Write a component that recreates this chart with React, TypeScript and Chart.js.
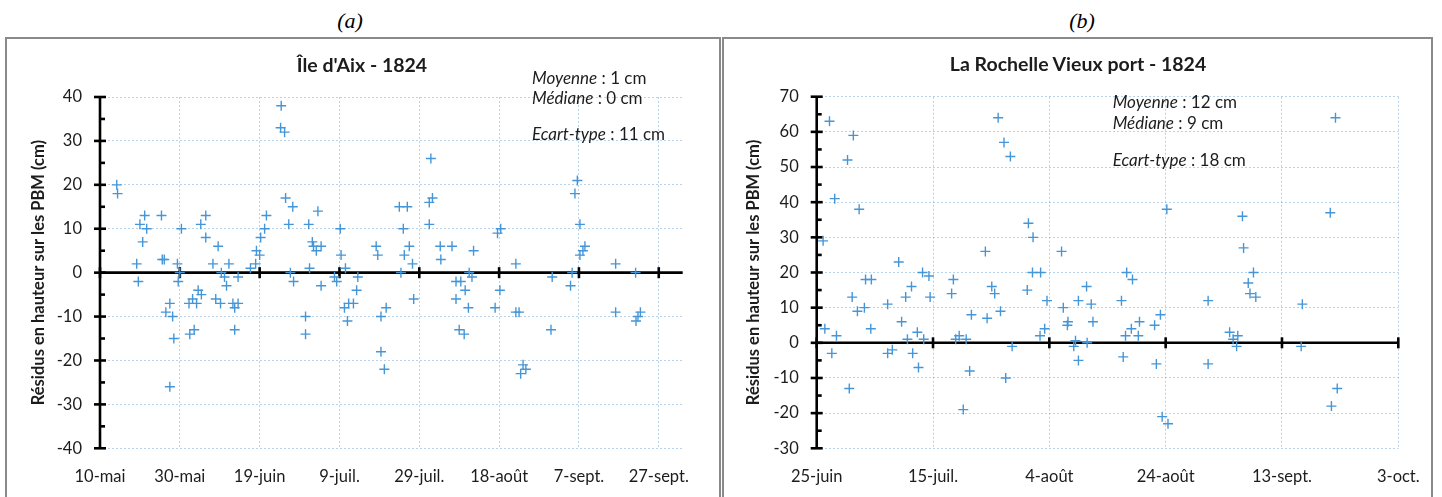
import React, { useEffect, useRef } from 'react';
import { Chart, registerables } from 'chart.js';

Chart.register(...registerables);

const FONT = 'Lato, "Open Sans", "DejaVu Sans", sans-serif';
const MARK_COLOR = '#4596d8';
const TEXT_COLOR = '#1c1c1c';
const GRID_COLOR = 'rgba(135,180,220,0.6)';

const Y_TITLE = 'Résidus en hauteur sur les PBM (cm)';

// ---- Panel (a) : Île d'Aix (x = days after 10 May 1824) ----
const aixTitle = "Île d'Aix - 1824";
const aixDays = [
  4.2, 4.4, 9.2, 9.6, 10, 10.7, 11.2, 11.7, 15.4, 15.6, 16.1, 16.5, 17.5, 17.5, 18.2, 18.5, 19.4, 19.6, 20, 20.4,
  22.3, 22.5, 23.2, 23.6, 24.2, 24.6, 25.25, 25.4, 26.5, 26.5, 28.3, 29, 29.6, 30.2, 30.4, 31.2, 31.7, 32.3, 33.3, 33.75,
  33.75, 34.6, 34.6, 37.7, 39, 39.2, 40, 40.25, 41.25, 41.7, 45.25, 45.4, 46.25, 46.5, 47.3, 47.7, 48.3, 48.5, 51.5, 51.5,
  52.3, 52.5, 53.2, 53.5, 54.2, 54.6, 55.4, 55.4, 58.75, 59.3, 60.2, 60.4, 61.25, 61.5, 62, 62.3, 63.5, 64.3, 64.6, 69.2,
  69.6, 70.4, 70.4, 71.25, 71.7, 75, 75.4, 76, 76.25, 77, 77.5, 78.3, 78.6, 82.5, 82.5, 82.9, 83.3, 85.25, 85.4, 88.2,
  89.2, 89.2, 90, 90.4, 91.25, 91.5, 92.3, 92.5, 93.2, 93.6, 99, 99.6, 100.2, 100.4, 104.2, 104.2, 105, 105.4, 106, 106.7,
  113, 113.3, 117.9, 118.3, 119, 119.6, 120.25, 120.25, 121.5, 121, 129.2, 129.2, 134.2, 134.3, 134.8, 135.4,
];
const aixResid = [
  20, 18, 2, -2, 11, 7, 13, 10, 13, 3, 3, -9, -7, -26, -10, -15, 2, -2, 0, 10,
  -7, -14, -6, -13, -7, -4, 11, -5, 13, 8, 2, -6, 6, -7, 0, -1, -3, 2, -7, -8,
  -13, -7, -1, 1, 2, 5, 4, 8, 10, 13, 33, 38, 32, 17, 11, 0, 15, -2, -10, -14,
  11, 1, 7, 6, 5, 14, 6, -3, -1, -2, 10, 4, -8, 1, -11, -7, -7, -4, -1, 6,
  4, -10, -18, -22, -8, 15, 0, 10, 4, 15, 6, 2, -6, 16, 11, 26, 17, 6, 3, 6,
  -2, -6, -13, -2, -14, -4, -8, 0, -1, 5, -8, 9, -4, 10, 2, -9, -9, -23, -21, -22,
  -13, -1, -3, 0, 18, 21, 11, 4, 6, 5, 2, -9, 0, -11, -10, -9,
];
const aixTickDays = [0, 20, 40, 60, 80, 100, 120, 140];
const aixTickLabels = ['10-mai', '30-mai', '19-juin', '9-juil.', '29-juil.', '18-août', '7-sept.', '27-sept.'];
const aixStats = [
  ['Moyenne', '1 cm'],
  ['Médiane', '0 cm'],
  ['Ecart-type', '11 cm'],
];

// ---- Panel (b) : La Rochelle Vieux port (x = days after 25 June 1824) ----
const lrTitle = 'La Rochelle Vieux port - 1824';
const lrDays = [
  1.1, 1.4, 2.2, 2.6, 3.1, 3.4, 5.3, 5.6, 6.1, 6.3, 7, 7.3, 8.2, 8.4, 9.3, 9.4, 12.2, 12.2, 13, 14.1,
  14.6, 15.3, 15.6, 16.3, 16.5, 17.3, 17.5, 18.2, 18.4, 19.3, 19.5, 23.2, 23.5, 23.9, 24.5, 25.2, 25.7, 26.3, 26.6, 29,
  29.3, 30.1, 30.6, 31.2, 31.6, 32.2, 32.5, 33.3, 33.6, 36.2, 36.4, 37.1, 37.2, 38.4, 38.5, 39.2, 39.6, 42.1, 42.4, 43.1,
  43.2, 44.2, 44.5, 45, 45, 46.4, 46.5, 47.2, 47.5, 52.4, 52.7, 53.1, 53.3, 54.1, 54.3, 55.3, 55.5, 58.1, 58.4, 59.1,
  59.4, 60.2, 60.4, 67.3, 67.3, 71, 71.6, 72.2, 72.4, 73.2, 73.4, 74.2, 74.5, 75.1, 75.5, 83.3, 83.5, 88.3, 88.5, 89.2,
  89.5,
];
const lrResid = [
  29, 4, 63, -3, 41, 2, 52, -13, 13, 59, 9, 38, 10, 18, 4, 18, 11, -3, -2, 23,
  6, 13, 1, 16, -3, 3, -7, 20, 1, 19, 13, 14, 18, 1, 2, -19, 1, -8, 8, 26,
  7, 16, 14, 64, 9, 57, -10, 53, -1, 15, 34, 20, 30, 2, 20, 4, 12, 26, 10, 5,
  6, -1, 0.6, 12, -5, 16, 0, 11, 6, 12, -4, 2, 20, 4, 18, 2, 6, 5, -6, 8,
  -21, 38, -23, 12, -6, 3, 1, -1, 2, 36, 27, 17, 14, 20, 13, -1, 11, 37, -18, 64,
  -13,
];
const lrTickDays = [0, 20, 40, 60, 80, 100];
const lrTickLabels = ['25-juin', '15-juil.', '4-août', '24-août', '13-sept.', '3-oct.'];
const lrStats = [
  ['Moyenne', '12 cm'],
  ['Médiane', '9 cm'],
  ['Ecart-type', '18 cm'],
];

const excelAxes = {
  id: 'excelAxes',
  beforeDatasetsDraw(chart: any) {
    const { ctx, chartArea: a, scales } = chart;
    const x = scales.x;
    const y = scales.y;
    const yMin = chart.options.scales.y.min;
    const yMax = chart.options.scales.y.max;
    const y0 = y.getPixelForValue(0);
    const xl = a.left;
    ctx.save();
    ctx.strokeStyle = '#000';
    ctx.lineWidth = 2.6;
    ctx.beginPath();
    ctx.moveTo(xl, a.top);
    ctx.lineTo(xl, a.bottom);
    ctx.stroke();
    for (let v = yMin; v <= yMax; v += 5) {
      const py = y.getPixelForValue(v);
      const major = v % 10 === 0;
      ctx.beginPath();
      ctx.moveTo(major ? xl - 6 : xl, py);
      ctx.lineTo(xl + (major ? 6 : 5), py);
      ctx.stroke();
    }
    ctx.beginPath();
    ctx.moveTo(xl, y0);
    ctx.lineTo(a.right, y0);
    ctx.stroke();
    x.ticks.forEach((t: any) => {
      const px = x.getPixelForValue(t.value);
      ctx.beginPath();
      ctx.moveTo(px, y0 - 5.5);
      ctx.lineTo(px, y0 + 5.5);
      ctx.stroke();
    });
    ctx.restore();
  },
};

type PanelProps = {
  left: number;
  top: number;
  width: number;
  height: number;
  days: number[];
  resid: number[];
  tickDays: number[];
  tickLabels: string[];
  xMax: number;
  yMin: number;
  yMax: number;
  yWidth: number;
  xHeight: number;
  padTop: number;
  padRight: number;
  titlePad: number;
};

function ResidualChart(p: PanelProps) {
  const ref = useRef<HTMLCanvasElement>(null);
  useEffect(() => {
    const points = p.days.map((d, i) => ({ x: d, y: p.resid[i] }));
    const chart = new Chart(ref.current as HTMLCanvasElement, {
      type: 'scatter',
      data: {
        datasets: [
          {
            data: points,
            pointStyle: 'cross',
            pointRadius: 5,
            pointBorderWidth: 1.4,
            borderColor: MARK_COLOR,
            backgroundColor: MARK_COLOR,
          },
        ],
      },
      plugins: [excelAxes],
      options: {
        responsive: false,
        animation: false,
        devicePixelRatio: 1,
        layout: { padding: { left: 0, top: p.padTop, right: p.padRight, bottom: 0 } },
        plugins: { legend: { display: false }, tooltip: { enabled: false } },
        scales: {
          x: {
            type: 'linear',
            min: 0,
            max: p.xMax,
            afterBuildTicks: (axis: any) => {
              axis.ticks = p.tickDays.map((v) => ({ value: v }));
            },
            afterFit: (axis: any) => {
              axis.height = p.xHeight;
            },
            ticks: {
              autoSkip: false,
              maxRotation: 0,
              padding: 0,
              color: TEXT_COLOR,
              font: { family: FONT, size: 16.5 },
              callback: (_v: any, i: number) => p.tickLabels[i],
            },
            grid: { color: GRID_COLOR, lineWidth: 1, drawTicks: true, tickLength: 18.5, tickColor: 'rgba(0,0,0,0)' },
            border: { display: false, dash: [2, 2] },
          },
          y: {
            type: 'linear',
            min: p.yMin,
            max: p.yMax,
            afterFit: (axis: any) => {
              axis.width = p.yWidth;
            },
            ticks: {
              stepSize: 10,
              padding: 0,
              color: TEXT_COLOR,
              font: { family: FONT, size: 16.5 },
            },
            grid: { color: GRID_COLOR, lineWidth: 1, drawTicks: true, tickLength: 18, tickColor: 'rgba(0,0,0,0)' },
            border: { display: false, dash: [2, 2] },
            title: {
              display: true,
              text: Y_TITLE,
              color: TEXT_COLOR,
              font: { family: FONT, size: 16.5, weight: 'bold' },
              padding: { top: p.titlePad, bottom: 0 },
            },
          },
        },
      },
    } as any);
    return () => chart.destroy();
  }, []);
  return (
    <canvas
      ref={ref}
      width={p.width}
      height={p.height}
      style={{ position: 'absolute', left: p.left, top: p.top, width: p.width, height: p.height }}
    />
  );
}

function Stats({ left, tops, rows }: { left: number; tops: number[]; rows: string[][] }) {
  return (
    <>
      {rows.map((r, i) => (
        <div
          key={i}
          style={{
            position: 'absolute',
            left,
            top: tops[i],
            transform: 'translateY(-50%)',
            fontFamily: FONT,
            fontSize: 17,
            color: TEXT_COLOR,
            whiteSpace: 'nowrap',
            lineHeight: 1,
          }}
        >
          <i>{r[0]}</i> : {r[1]}
        </div>
      ))}
    </>
  );
}

const centered = (x: number, y: number): React.CSSProperties => ({
  position: 'absolute',
  left: x,
  top: y,
  transform: 'translate(-50%, -50%)',
  whiteSpace: 'nowrap',
  lineHeight: 1,
});

export default function App() {
  useEffect(() => {
    document.body.style.margin = '0';
    document.body.style.overflow = 'hidden';
  }, []);
  document.body.style.margin = '0';
  return (
    <div style={{ position: 'relative', width: 1442, height: 497, overflow: 'hidden', background: '#fff' }}>
      <div style={{ ...centered(350, 21), fontFamily: '"Liberation Serif", serif', fontStyle: 'italic', fontSize: 22 }}>(a)</div>
      <div style={{ ...centered(1082, 21), fontFamily: '"Liberation Serif", serif', fontStyle: 'italic', fontSize: 22 }}>(b)</div>

      <div style={{ position: 'absolute', left: 5, top: 37, width: 716, height: 490, border: '2px solid #8a8a8a', boxSizing: 'border-box' }} />
      <div style={{ position: 'absolute', left: 722, top: 37, width: 711, height: 490, border: '2px solid #8a8a8a', boxSizing: 'border-box' }} />

      <ResidualChart
        left={7}
        top={39}
        width={712}
        height={458}
        days={aixDays}
        resid={aixResid}
        tickDays={aixTickDays}
        tickLabels={aixTickLabels}
        xMax={146}
        yMin={-40}
        yMax={40}
        yWidth={93}
        xHeight={48.7}
        padTop={58}
        padRight={36.3}
        titlePad={21.3}
      />
      <ResidualChart
        left={724}
        top={39}
        width={707}
        height={458}
        days={lrDays}
        resid={lrResid}
        tickDays={lrTickDays}
        tickLabels={lrTickLabels}
        xMax={100}
        yMin={-30}
        yMax={70}
        yWidth={92.7}
        xHeight={48.7}
        padTop={57.7}
        padRight={32.7}
        titlePad={19.3}
      />

      <div style={{ ...centered(362, 65), fontFamily: FONT, fontWeight: 'bold', fontSize: 19.5, color: TEXT_COLOR }}>{aixTitle}</div>
      <div style={{ ...centered(1078, 64), fontFamily: FONT, fontWeight: 'bold', fontSize: 19.5, color: TEXT_COLOR }}>{lrTitle}</div>

      <Stats left={532} tops={[76.7, 96.7, 133.3]} rows={aixStats} />
      <Stats left={1112.7} tops={[101, 121.7, 159.3]} rows={lrStats} />
    </div>
  );
}
